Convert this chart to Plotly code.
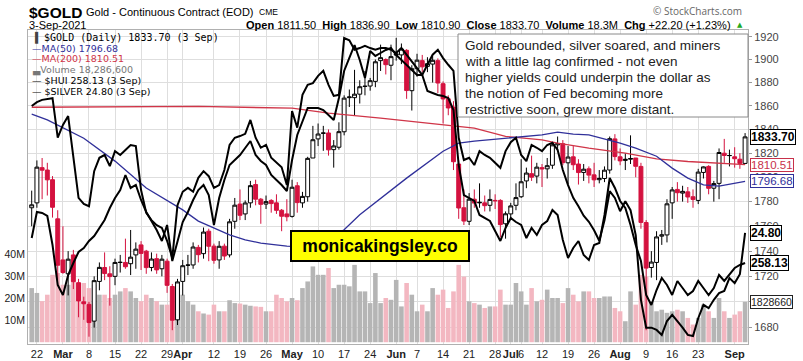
import math
import pandas as pd
import plotly.graph_objects as go

# ---------------- data ----------------
holidays = ['2021-04-02', '2021-05-31', '2021-07-05']
dates = [d.strftime('%Y-%m-%d') for d in pd.bdate_range('2021-02-19', '2021-09-03')
         if d.strftime('%Y-%m-%d') not in holidays]

opens = [1775, 1779, 1808, 1806, 1798, 1766, 1733, 1722, 1737, 1715, 1700, 1698, 1685, 1716, 1727, 1722,
         1720, 1731, 1731, 1730, 1737, 1745, 1740, 1727, 1734, 1726, 1732, 1712, 1686, 1716, 1729, 1729,
         1743, 1738, 1756, 1744, 1733, 1744, 1737, 1764, 1778, 1770, 1779, 1794, 1782, 1778, 1781, 1779,
         1773, 1770, 1768, 1793, 1779, 1784, 1816, 1832, 1837, 1837, 1823, 1825, 1838, 1867, 1867, 1870,
         1877, 1877, 1881, 1899, 1900, 1895, 1905, 1904, 1908, 1873, 1892, 1899, 1894, 1896, 1899, 1879,
         1866, 1859, 1811, 1775, 1764, 1782, 1779, 1779, 1777, 1781, 1781, 1762, 1770, 1777, 1784, 1797,
         1803, 1801, 1808, 1807, 1810, 1827, 1828, 1812, 1817, 1811, 1804, 1807, 1802, 1798, 1799, 1806,
         1832, 1817, 1814, 1815, 1816, 1809, 1763, 1727, 1731, 1752, 1753, 1779, 1790, 1787, 1788, 1784,
         1781, 1804, 1809, 1791, 1795, 1820, 1818, 1817, 1815, 1811.5]
highs = [1789, 1814, 1816, 1812, 1801, 1773, 1760, 1740, 1741, 1718, 1704, 1700, 1720, 1731, 1739, 1728,
         1734, 1737, 1750, 1757, 1747, 1748, 1741, 1739, 1738, 1737, 1734, 1714, 1718, 1733, 1737, 1747,
         1745, 1759, 1758, 1746, 1748, 1746, 1766, 1783, 1790, 1781, 1797, 1798, 1783, 1785, 1782, 1786,
         1774, 1782, 1798, 1796, 1788, 1817, 1843, 1845, 1843, 1840, 1831, 1846, 1869, 1874, 1891, 1882,
         1890, 1884, 1900, 1913, 1901, 1913, 1919, 1914, 1909, 1895, 1905, 1904, 1902, 1903, 1901, 1881,
         1869, 1864, 1814, 1790, 1787, 1790, 1795, 1785, 1790, 1786, 1782, 1772, 1779, 1795, 1815, 1808,
         1818, 1812, 1811, 1816, 1829, 1834, 1831, 1826, 1826, 1815, 1811, 1809, 1812, 1806, 1809, 1834,
         1836, 1824, 1820, 1835, 1816, 1812, 1765, 1740, 1756, 1757, 1782, 1792, 1796, 1793, 1792, 1790,
         1807, 1809, 1810, 1797, 1824, 1832, 1823, 1825, 1820, 1836.9]
lows = [1760, 1775, 1782, 1785, 1767, 1717, 1722, 1705, 1710, 1688, 1686, 1673, 1680, 1709, 1717, 1697,
        1713, 1723, 1726, 1721, 1726, 1725, 1722, 1724, 1722, 1720, 1707, 1678, 1682, 1705, 1721, 1726,
        1731, 1734, 1732, 1730, 1726, 1733, 1735, 1758, 1765, 1765, 1775, 1777, 1762, 1774, 1771, 1770,
        1756, 1764, 1767, 1771, 1775, 1780, 1816, 1826, 1822, 1818, 1808, 1823, 1835, 1859, 1852, 1862,
        1869, 1873, 1876, 1890, 1887, 1882, 1899, 1896, 1866, 1856, 1885, 1889, 1889, 1880, 1871, 1845,
        1852, 1806, 1766, 1761, 1761, 1775, 1775, 1772, 1772, 1774, 1751, 1750, 1765, 1773, 1783, 1791,
        1797, 1795, 1792, 1799, 1807, 1822, 1810, 1794, 1806, 1794, 1797, 1795, 1792, 1795, 1796, 1803,
        1814, 1810, 1806, 1811, 1800, 1758, 1678, 1719, 1717, 1745, 1747, 1766, 1780, 1780, 1779, 1775,
        1778, 1799, 1786, 1780, 1782, 1812, 1809, 1808, 1807, 1810.9]
closes = [1777.4, 1808.4, 1805.9, 1797.9, 1775.4, 1728.8, 1723.0, 1733.6, 1715.8, 1700.7, 1698.5, 1683.9,
          1716.6, 1727.1, 1722.2, 1719.8, 1731.0, 1731.1, 1727.6, 1735.2, 1741.6, 1738.2, 1726.9, 1733.7,
          1725.1, 1733.6, 1712.9, 1685.7, 1715.6, 1728.4, 1728.8, 1743.3, 1737.2, 1755.3, 1743.9, 1732.7,
          1743.9, 1736.1, 1763.6, 1777.1, 1768.9, 1778.9, 1793.1, 1782.0, 1777.8, 1780.0, 1778.4, 1772.9,
          1768.1, 1767.7, 1791.8, 1779.2, 1784.3, 1815.7, 1831.3, 1836.1, 1836.8, 1822.8, 1826.1, 1838.1,
          1866.6, 1867.6, 1870.0, 1876.4, 1876.6, 1881.6, 1898.0, 1901.6, 1895.5, 1902.5, 1903.9, 1909.1,
          1873.1, 1892.0, 1899.4, 1893.6, 1896.4, 1899.3, 1879.6, 1865.9, 1858.2, 1812.9, 1774.8, 1764.2,
          1782.0, 1778.8, 1779.4, 1776.7, 1781.8, 1780.7, 1761.3, 1770.1, 1776.5, 1783.3, 1796.3, 1803.5,
          1800.1, 1808.4, 1806.9, 1809.6, 1827.0, 1828.1, 1812.1, 1816.8, 1810.4, 1803.9, 1806.7, 1801.8,
          1797.9, 1799.1, 1805.9, 1832.2, 1817.2, 1813.6, 1814.9, 1815.6, 1809.1, 1763.1, 1726.5, 1731.3,
          1751.4, 1753.1, 1778.2, 1789.6, 1787.3, 1788.4, 1783.8, 1781.8, 1804.3, 1808.6, 1790.9, 1794.8,
          1820.6, 1818.1, 1818.1, 1815.4, 1811.5, 1833.7]
volume_m = [24.5, 22.3, 18.6, 21.5, 30.5, 31.3, 26, 26, 27.5, 26, 26.8, 24.5, 26, 21.5, 21.5, 20, 21.5, 23,
            24.5, 23, 20, 18.6, 21.5, 20, 18.6, 17, 17, 25.2, 24.5, 21.5, 18.6, 17, 14, 13, 12.5, 17, 14,
            14, 19, 17.7, 17.5, 17, 16.5, 16.2, 16, 14, 14, 21.5, 20, 18.5, 20, 19, 24.5, 27.5, 34.3, 30.5,
            30.5, 33.6, 24.5, 26, 26, 25.3, 35, 23, 23, 17.7, 31.3, 17.7, 20, 19.2, 28.2, 16.2, 26.8, 21.5,
            14, 17, 14, 24.5, 21.5, 23.8, 15.5, 23, 35, 29.7, 18.5, 17.7, 17, 15.5, 16.2, 16.2, 23.8, 17,
            17, 26.8, 23, 17, 24.5, 18.5, 19.2, 23.8, 20, 20, 17.7, 24.5, 21.5, 18.5, 23, 23, 20, 20, 20.7,
            20.7, 15.5, 14, 9.5, 23, 17, 30.5, 29.7, 18.5, 14, 14.7, 13.3, 14, 14.7, 14, 11, 8, 11, 17, 14,
            11, 20, 14, 11, 12.5, 14, 18.29]
silver = [27.08, 27.15, 27.19, 27.21, 27.22, 26.51, 26.74, 26.90, 26.11, 25.43, 25.32, 25.28, 25.91, 26.15,
          26.20, 26.00, 26.27, 26.20, 26.29, 26.38, 26.36, 25.57, 25.16, 25.03, 24.94, 24.89, 24.66, 24.35,
          25.30, 25.54, 25.61, 25.54, 25.79, 25.91, 25.82, 25.61, 25.66, 25.93, 26.38, 26.51, 26.54, 26.58,
          26.83, 26.51, 26.33, 26.38, 26.15, 26.06, 25.98, 25.66, 26.99, 26.69, 27.28, 27.46, 27.49, 27.62,
          27.71, 27.46, 27.26, 27.28, 28.30, 28.26, 28.09, 28.12, 28.16, 28.12, 28.09, 28.12, 28.12, 28.09,
          28.03, 28.12, 28.00, 27.89, 27.76, 27.64, 27.82, 28.00, 28.09, 27.94, 27.82, 27.71, 26.51, 26.11,
          26.15, 26.02, 26.27, 26.20, 26.15, 26.06, 25.97, 26.27, 26.43, 26.51, 26.20, 26.09, 26.38, 26.33,
          26.27, 26.38, 26.42, 26.29, 25.93, 25.66, 25.43, 25.28, 25.11, 25.00, 24.85, 24.66, 25.03, 25.55,
          25.43, 25.19, 25.37, 25.21, 24.76, 23.60, 23.10, 23.10, 23.06, 22.97, 23.22, 23.33, 23.22, 23.10,
          22.97, 22.95, 23.27, 23.51, 23.45, 23.60, 23.72, 23.76, 23.99, 23.90, 24.06, 24.80]
hui = [265.31, 272.79, 272.50, 271.64, 263.30, 251.81, 248.93, 254.68, 258.13, 261.29, 262.44, 264.45,
       265.89, 268.19, 270.49, 273.94, 276.81, 279.11, 283.42, 279.69, 280.55, 276.24, 272.79, 270.20,
       267.61, 264.45, 269.05, 258.70, 264.74, 269.91, 272.79, 276.24, 279.11, 280.55, 277.67, 269.05,
       276.81, 281.98, 286.30, 287.73, 289.17, 291.18, 293.19, 289.17, 287.44, 286.30, 283.42, 281.98,
       280.55, 278.82, 287.73, 294.92, 298.65, 302.68, 302.68, 302.68, 302.10, 300.66, 299.23, 305.55,
       313.31, 317.05, 320.78, 316.47, 311.30, 319.06, 317.62, 318.48, 319.35, 319.92, 317.91, 316.47,
       315.04, 313.60, 312.16, 312.16, 307.56, 306.99, 306.41, 306.13, 305.55, 302.10, 286.30, 277.67,
       276.81, 275.95, 271.93, 271.06, 270.20, 267.33, 264.45, 268.19, 271.06, 269.91, 269.05, 265.31,
       268.19, 266.18, 269.05, 270.20, 273.36, 271.93, 264.74, 259.57, 262.44, 264.45, 260.43, 258.99,
       263.30, 263.88, 271.93, 282.56, 279.69, 275.95, 273.94, 269.05, 263.30, 258.70, 248.93, 246.06,
       250.37, 253.82, 251.81, 248.93, 252.96, 250.94, 248.93, 250.08, 252.96, 250.94, 248.93, 250.94,
       254.68, 252.96, 254.68, 256.69, 257.56, 258.13]
ma50_dates = ['2021-02-19', '2021-02-24', '2021-03-05', '2021-03-15', '2021-03-23', '2021-04-01',
              '2021-04-07', '2021-04-12', '2021-04-15', '2021-04-20', '2021-04-23', '2021-04-30',
              '2021-05-05', '2021-05-11', '2021-05-17', '2021-05-20', '2021-05-26', '2021-06-03',
              '2021-06-14', '2021-06-17', '2021-06-22', '2021-06-30', '2021-07-12', '2021-07-15',
              '2021-07-20', '2021-07-23', '2021-08-02', '2021-08-05', '2021-08-11', '2021-08-16',
              '2021-08-19', '2021-08-24', '2021-08-27', '2021-09-03']
ma50_vals = [1853.0, 1848.1, 1832.6, 1813.4, 1791.1, 1773.3, 1764.2, 1758.5, 1753.1, 1749.1, 1746.4,
             1744.0, 1743.5, 1748.0, 1757.1, 1769.3, 1782.9, 1799.3, 1821.7, 1828.4, 1830.1, 1832.6,
             1835.4, 1837.7, 1836.0, 1835.4, 1828.4, 1824.2, 1817.5, 1807.6, 1799.3, 1793.8, 1792.7,
             1796.68]
ma200_dates = ['2021-02-19', '2021-03-19', '2021-04-07', '2021-05-03', '2021-05-12', '2021-05-26',
               '2021-06-04', '2021-06-14', '2021-06-22', '2021-06-30', '2021-07-12', '2021-07-15',
               '2021-07-23', '2021-08-03', '2021-08-11', '2021-08-19', '2021-08-27', '2021-09-03']
ma200_vals = [1858.8, 1859.0, 1859.5, 1858.0, 1853.8, 1849.6, 1846.7, 1843.9, 1841.1, 1834.1, 1831.2,
              1828.4, 1824.2, 1820.1, 1815.3, 1813.1, 1811.7, 1810.51]

tick_dates = ['2021-02-22', '2021-03-01', '2021-03-08', '2021-03-15', '2021-03-22', '2021-03-29',
              '2021-04-01', '2021-04-12', '2021-04-19', '2021-04-26', '2021-05-03', '2021-05-10',
              '2021-05-17', '2021-05-24', '2021-06-01', '2021-06-07', '2021-06-14', '2021-06-21',
              '2021-06-28', '2021-07-01', '2021-07-06', '2021-07-12', '2021-07-19', '2021-07-26',
              '2021-08-02', '2021-08-09', '2021-08-16', '2021-08-23', '2021-09-01']
tick_text = ['22', '<b>Mar</b>', '8', '15', '22', '29', '<b>Apr</b>', '12', '19', '26', '<b>May</b>',
             '10', '17', '24', '<b>Jun</b>', '7', '14', '21', '28', '<b>Jul</b>', '6', '12', '19', '26',
             '<b>Aug</b>', '9', '16', '23', '<b>Sep</b>']
price_ticks = [1680, 1700, 1720, 1740, 1760, 1780, 1800, 1820, 1840, 1860, 1880, 1900, 1920]

note_lines = ["Gold rebounded, silver soared, and miners",
              "with a little lag confirmed - not even",
              "higher yields could underpin the dollar as",
              "the notion of Fed becoming more",
              "restrictive soon, grew more distant."]

# ---------------- figure ----------------
n = len(dates)
prev = [closes[0]] + closes[:-1]
up_ids = [i for i in range(n) if closes[i] >= prev[i]]
dn_ids = [i for i in range(n) if closes[i] < prev[i]]


def sub(lst, ids):
    return [lst[i] for i in ids]


GREY_VOL = '#b5b5b5'
PINK_VOL = '#f3b7c1'
RED = '#d4123f'
vol_colors = [GREY_VOL if closes[i] >= prev[i] else PINK_VOL for i in range(n)]

fig = go.Figure()
fig.add_trace(go.Bar(x=dates, y=[v * 1e6 for v in volume_m], marker=dict(color=vol_colors, line=dict(width=0)),
                     yaxis='y', hoverinfo='skip'))

for ids, col in ((up_ids, 'black'), (dn_ids, RED)):
    fig.add_trace(go.Candlestick(
        x=sub(dates, ids), open=sub(opens, ids), high=sub(highs, ids), low=sub(lows, ids),
        close=sub(closes, ids), yaxis='y2', whiskerwidth=0,
        increasing=dict(line=dict(color=col, width=1), fillcolor='white'),
        decreasing=dict(line=dict(color=col, width=1), fillcolor=col),
        hoverinfo='skip'))

fig.add_trace(go.Scatter(x=ma200_dates, y=ma200_vals, mode='lines', yaxis='y2',
                         line=dict(color='#d03548', width=1.3), hoverinfo='skip'))
fig.add_trace(go.Scatter(x=ma50_dates, y=ma50_vals, mode='lines', yaxis='y2',
                         line=dict(color='#30309a', width=1.3), hoverinfo='skip'))
fig.add_trace(go.Scatter(x=dates, y=silver, mode='lines', yaxis='y3',
                         line=dict(color='black', width=2), hoverinfo='skip'))
fig.add_trace(go.Scatter(x=dates, y=hui, mode='lines', yaxis='y4',
                         line=dict(color='black', width=2), hoverinfo='skip'))

L, R, T, B = 28, 748, 30, 344
W, H = R - L, B - T


def px(x):
    return (x - L) / W


def py(y):
    return (B - y) / H


def text_ann(x, y, text, size, color='black', family='Liberation Sans', anchor='left'):
    return dict(x=px(x), y=py(y), xref='paper', yref='paper', xanchor=anchor, yanchor='middle',
                text=text, showarrow=False, font=dict(family=family, size=size, color=color))


ann = []
# header
ann.append(text_ann(27, 12, '<b>$GOLD</b>', 15.5))
ann.append(text_ann(84, 12, 'Gold - Continuous Contract (EOD)', 11))
ann.append(text_ann(257, 12, 'CME', 8.5))
ann.append(text_ann(27, 25, '3-Sep-2021', 11))
ann.append(text_ann(733, 25, ('<b>Open</b> 1811.50  <b>High</b> 1836.90  <b>Low</b> 1810.90  '
                              '<b>Close</b> 1833.70  <b>Volume</b> 18.3M  <b>Chg</b> +22.20 (+1.23%)'),
                    11, anchor='right'))
ann.append(text_ann(735, 25, '▲', 7, color='#22aa22', family='DejaVu Sans'))
ann.append(text_ann(744, 11, '© StockCharts.com', 10, color='#666', family='Open Sans', anchor='right'))

# legend
leg_rows = [
    ("<span style='color:#444'>▐</span> $GOLD (Daily) 1833.70 (3 Sep)", 'black', 10, 'DejaVu Sans Mono', 37),
    ("<span style='color:#30309a'>—</span>MA(50) 1796.68", '#30309a', 9.5, 'DejaVu Sans', 48),
    ("<span style='color:#d03548'>—</span>MA(200) 1810.51", '#d03548', 9.5, 'DejaVu Sans', 59),
    ("<span style='color:#777'>▃</span>Volume 18,286,600", '#777777', 9.5, 'DejaVu Sans', 70),
    ("— $HUI 258.13 (3 Sep)", 'black', 9.5, 'DejaVu Sans', 81),
    ("— $SILVER 24.80 (3 Sep)", 'black', 9.5, 'DejaVu Sans', 92),
]
for txt, col, sz, fam, yy in leg_rows:
    ann.append(text_ann(30, yy, txt, sz, color=col, family=fam))

# comment box lines
for k, line in enumerate(note_lines):
    ann.append(text_ann(463, 45.5 + 16 * k, line, 13.5, color='#222'))

# website box
ann.append(dict(x=px(380), y=py(246), xref='paper', yref='paper', xanchor='center', yanchor='middle',
                text='<b>monicakingsley.co</b>', showarrow=False, bgcolor='#ffff00', bordercolor='black',
                borderwidth=2, borderpad=4, width=168,
                font=dict(family='Liberation Sans', size=17.5, color='black')))


# right-side value tags
def tag(val, yref, text, col, bold=False, size=11):
    yv = math.log10(val) if yref == 'y2' else val
    t = '<b>%s</b>' % text if bold else text
    return dict(x=1, y=yv, xref='paper', yref=yref, xanchor='left', yanchor='middle', xshift=2,
                text=t, showarrow=False, bgcolor='white', bordercolor=col, borderwidth=1, borderpad=0,
                font=dict(family='Liberation Sans', size=size, color=col))


ann.append(tag(closes[-1], 'y2', '1833.70', 'black', True, 12))
ann.append(tag(ma200_vals[-1], 'y2', '1810.51', '#c8304a', False, 11.5))
ann.append(tag(ma50_vals[-1], 'y2', '1796.68', '#30309a', False, 11.5))
ann.append(tag(silver[-1], 'y3', '24.80', 'black', True, 12))
ann.append(tag(hui[-1], 'y4', '258.13', 'black', True, 12))
ann.append(tag(volume_m[-1] * 1e6, 'y', '1828660', '#222', False, 10.5))

shapes = [dict(type='rect', xref='paper', yref='paper', x0=px(458), x1=px(748), y0=py(117), y1=py(34),
               fillcolor='white', line=dict(color='#8a8a8a', width=1), layer='above')]

fig.update_layout(
    width=803, height=361, margin=dict(l=L, r=803 - R, t=T, b=361 - B, autoexpand=False),
    paper_bgcolor='white', plot_bgcolor='white', showlegend=False,
    boxgap=0, boxgroupgap=0.25, bargap=0.12,
    font=dict(family='Liberation Sans', size=11, color='#333'),
    annotations=ann, shapes=shapes,
    xaxis=dict(type='category', categoryorder='array', categoryarray=dates, range=[-0.71, 137.56],
               tickmode='array', tickvals=tick_dates, ticktext=tick_text, showgrid=True, tickangle=0,
               gridcolor='#dedede', gridwidth=1, ticks='', tickfont=dict(size=11, color='#222'),
               showline=True, linecolor='#b0b0b0', mirror=True, zeroline=False, automargin=False,
               rangeslider=dict(visible=False)),
    yaxis=dict(range=[-0.81e6, 141.3e6], tickmode='array', tickvals=[10e6, 20e6, 30e6, 40e6],
               ticktext=['10M', '20M', '30M', '40M'], side='left', showgrid=False, zeroline=False,
               ticks='', tickfont=dict(size=10.5, color='#222'), showline=True, linecolor='#b0b0b0',
               automargin=False),
    yaxis2=dict(type='log', range=[math.log10(1667.4), math.log10(1925.9)], overlaying='y', side='right',
                tickmode='array', tickvals=price_ticks, ticktext=[str(v) for v in price_ticks],
                showgrid=True, gridcolor='#dedede', ticks='outside', ticklen=3, tickcolor='#999',
                tickfont=dict(size=11, color='#444'), zeroline=False, showline=True, linecolor='#b0b0b0',
                automargin=False),
    yaxis3=dict(range=[22.807, 28.444], overlaying='y', visible=False),
    yaxis4=dict(range=[234.85, 325.09], overlaying='y', visible=False),
)

fig.write_html('out.html', config={'displayModeBar': False},
               post_script="document.body.style.margin='0px';document.body.style.overflow='hidden';")
